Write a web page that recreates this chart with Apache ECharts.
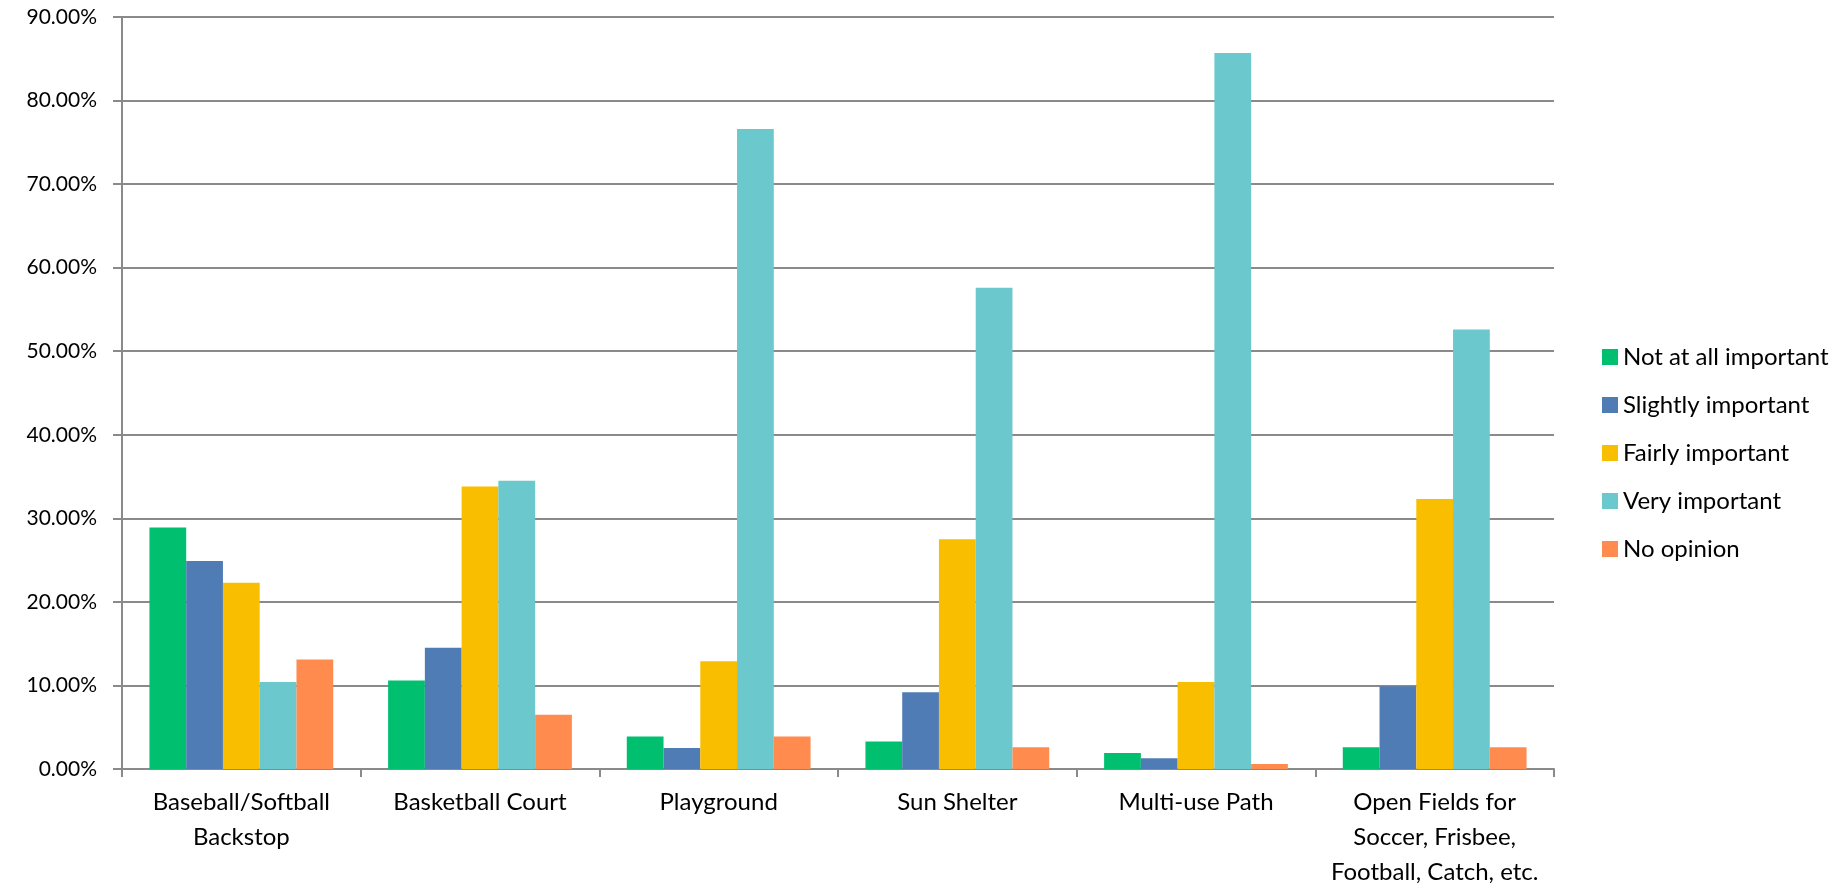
<!DOCTYPE html>
<html>
<head>
<meta charset="utf-8">
<script src="https://cdn.jsdelivr.net/npm/echarts@6/dist/echarts.min.js"></script>
<style>html,body{margin:0;padding:0;background:#fff}#c{width:1844px;height:890px}</style>
</head>
<body>
<div id="c"></div>
<script>
const categories = ["Baseball/Softball\nBackstop", "Basketball Court", "Playground", "Sun Shelter", "Multi-use Path", "Open Fields for\nSoccer, Frisbee,\nFootball, Catch, etc."];
const seriesNames = ["Not at all important", "Slightly important", "Fairly important", "Very important", "No opinion"];
const notAtAll = [28.9, 10.6, 3.9, 3.3, 1.9, 2.6];
const slightly = [24.9, 14.5, 2.5, 9.2, 1.3, 9.9];
const fairly = [22.3, 33.8, 12.9, 27.5, 10.4, 32.3];
const very = [10.4, 34.5, 76.6, 57.6, 85.7, 52.6];
const noOpinion = [13.1, 6.5, 3.9, 2.6, 0.6, 2.6];
const colors = ["#00BF6F", "#507CB6", "#F9BE00", "#6BC8CD", "#FF8B4F"];
const values = [notAtAll, slightly, fairly, very, noOpinion];

const font = "Lato, 'Open Sans', sans-serif";
const chart = echarts.init(document.getElementById('c'));
chart.setOption({
  animation: false,
  grid: {left: 122, right: 290, top: 17, bottom: 112, containLabel: false},
  legend: {
    orient: 'vertical', left: 1597, top: 340,
    itemWidth: 16, itemHeight: 16, itemGap: 24,
    icon: 'rect',
    textStyle: {fontFamily: font, fontSize: 24, color: '#000', lineHeight: 24},
    data: seriesNames
  },
  xAxis: {
    type: 'category', data: categories,
    axisLine: {lineStyle: {color: '#8a8a8a', width: 2}},
    axisTick: {show: true, length: 8, lineStyle: {color: '#8a8a8a', width: 2}},
    axisLabel: {fontFamily: font, fontSize: 24, color: '#000', lineHeight: 35, margin: 16, interval: 0}
  },
  yAxis: {
    type: 'value', min: 0, max: 90, interval: 10,
    axisLine: {show: true, lineStyle: {color: '#8a8a8a', width: 2}},
    axisTick: {show: true, length: 9, lineStyle: {color: '#8a8a8a', width: 2}},
    splitLine: {lineStyle: {color: '#8a8a8a', width: 2}},
    axisLabel: {fontFamily: font, fontSize: 21, color: '#000', margin: 25, formatter: v => v.toFixed(2) + '%'}
  },
  series: seriesNames.map((n, i) => ({
    name: n, type: 'bar', data: values[i],
    barGap: '0%', barCategoryGap: '23%',
    itemStyle: {color: colors[i]}
  }))
});
</script>
</body>
</html>
